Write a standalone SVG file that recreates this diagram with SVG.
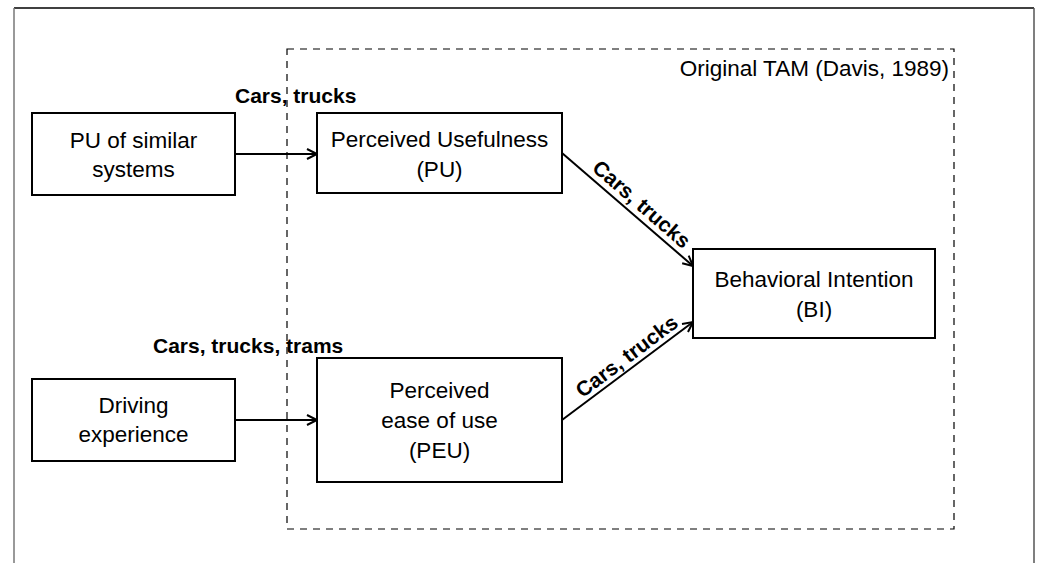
<svg xmlns="http://www.w3.org/2000/svg" width="1037" height="563" viewBox="0 0 1037 563">
<style>
.box{fill:#fff;stroke:#000;stroke-width:2}
.t{font-family:"Liberation Sans",Arial,sans-serif;font-size:22.5px;fill:#000;text-anchor:middle}
.lbl{font-family:"Liberation Sans",Arial,sans-serif;font-size:21px;font-weight:bold;fill:#000}
.conn{stroke:#000;stroke-width:2;fill:none;marker-end:url(#arr)}
</style>
<defs>
<marker id="arr" markerUnits="userSpaceOnUse" markerWidth="14" markerHeight="14" refX="11" refY="6" orient="auto">
<path d="M1,1 L11,6 L1,11" fill="none" stroke="#000" stroke-width="2"/>
</marker>
</defs>
<rect width="1037" height="563" fill="#fff"/>
<g id="frame">
<line x1="14" y1="8" x2="1034" y2="8" stroke="#000" stroke-width="1.5"/>
<line x1="14" y1="8" x2="14" y2="563" stroke="#777" stroke-width="1.5"/>
<line x1="1034" y1="8" x2="1034" y2="563" stroke="#555" stroke-width="1.5"/>
</g>
<g id="tam">
<rect x="287" y="49" width="667" height="480" fill="none" stroke="#000" stroke-width="1.2" stroke-dasharray="7 6"/>
<text class="t" x="949" y="76" style="text-anchor:end">Original TAM (Davis, 1989)</text>
</g>
<g id="connectors">
<line class="conn" x1="235" y1="154" x2="317" y2="154"/>
<line class="conn" x1="235" y1="420" x2="317" y2="420"/>
<line class="conn" x1="562" y1="153" x2="693" y2="266"/>
<line class="conn" x1="562" y1="420" x2="693" y2="322"/>
<text class="lbl" x="235" y="103">Cars, trucks</text>
<text class="lbl" x="153" y="353">Cars, trucks, trams</text>
<text class="lbl" transform="translate(633,214) rotate(41)" x="0" y="-6" text-anchor="middle">Cars, trucks</text>
<text class="lbl" transform="translate(634,366) rotate(-37)" x="0" y="-5" text-anchor="middle">Cars, trucks</text>
</g>
<g id="pu_similar">
<rect class="box" x="32" y="113" width="203" height="82"/>
<text class="t" x="133.5" y="148">PU of similar</text>
<text class="t" x="133.5" y="177">systems</text>
</g>
<g id="pu">
<rect class="box" x="317" y="113" width="245" height="80"/>
<text class="t" x="439.5" y="147">Perceived Usefulness</text>
<text class="t" x="439.5" y="177">(PU)</text>
</g>
<g id="driving">
<rect class="box" x="32" y="379" width="203" height="82"/>
<text class="t" x="133.5" y="413">Driving</text>
<text class="t" x="133.5" y="442">experience</text>
</g>
<g id="peu">
<rect class="box" x="317" y="358" width="245" height="124"/>
<text class="t" x="439.5" y="398">Perceived</text>
<text class="t" x="439.5" y="428">ease of use</text>
<text class="t" x="439.5" y="458">(PEU)</text>
</g>
<g id="bi">
<rect class="box" x="693" y="249" width="242" height="89"/>
<text class="t" x="814" y="287">Behavioral Intention</text>
<text class="t" x="814" y="317">(BI)</text>
</g>
</svg>
